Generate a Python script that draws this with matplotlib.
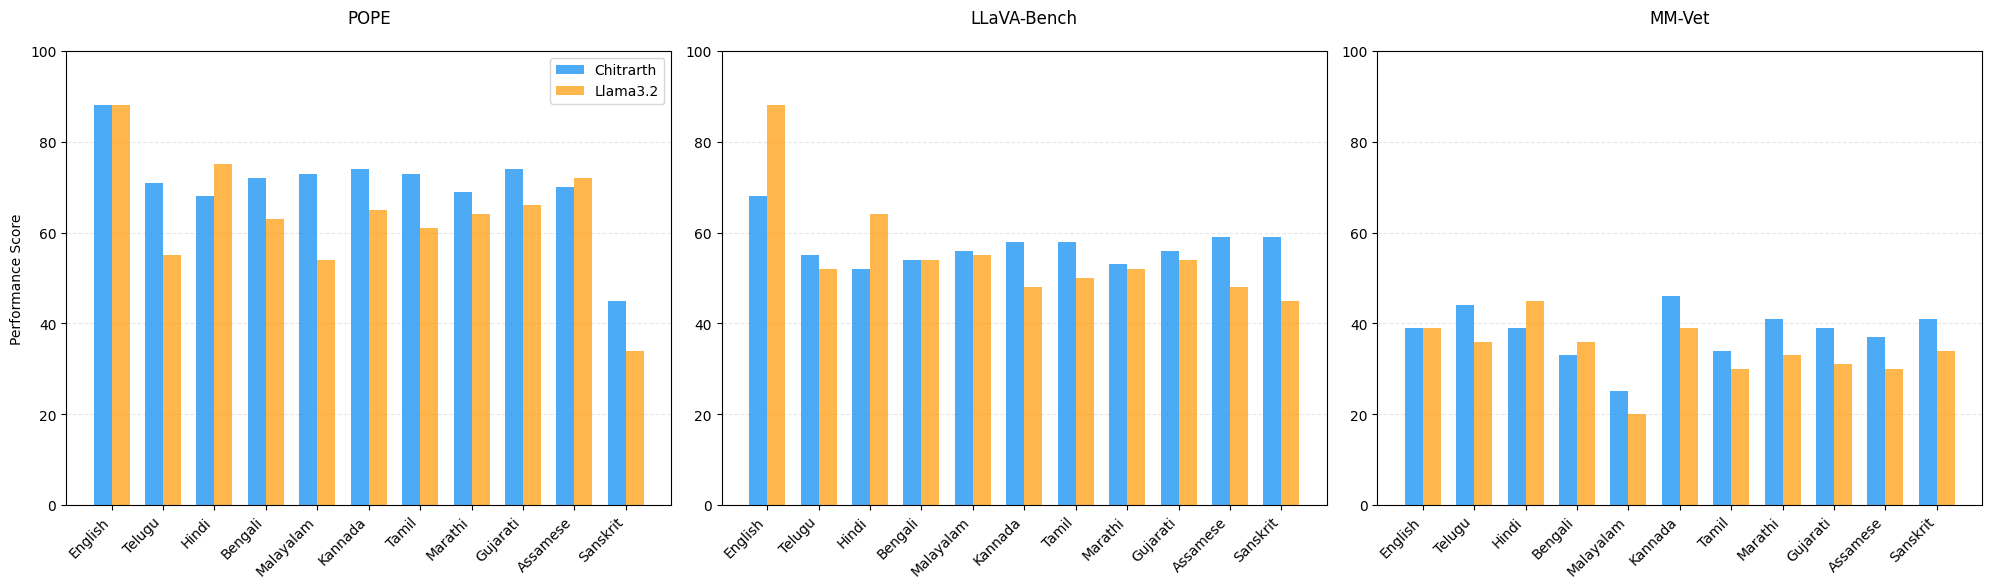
import matplotlib
matplotlib.use("Agg")
import matplotlib.pyplot as plt
import numpy as np

languages = ["English", "Telugu", "Hindi", "Bengali", "Malayalam", "Kannada",
             "Tamil", "Marathi", "Gujarati", "Assamese", "Sanskrit"]
benchmarks = ["POPE", "LLaVA-Bench", "MM-Vet"]
series_names = ["Chitrarth", "Llama3.2"]

pope_chitrarth = [88, 71, 68, 72, 73, 74, 73, 69, 74, 70, 45]
pope_llama = [88, 55, 75, 63, 54, 65, 61, 64, 66, 72, 34]
llava_chitrarth = [68, 55, 52, 54, 56, 58, 58, 53, 56, 59, 59]
llava_llama = [88, 52, 64, 54, 55, 48, 50, 52, 54, 48, 45]
mmvet_chitrarth = [39, 44, 39, 33, 25, 46, 34, 41, 39, 37, 41]
mmvet_llama = [39, 36, 45, 36, 20, 39, 30, 33, 31, 30, 34]

data = [(pope_chitrarth, pope_llama),
        (llava_chitrarth, llava_llama),
        (mmvet_chitrarth, mmvet_llama)]

blue = "#2196F3"
orange = "#FF9800"

fig, axes = plt.subplots(1, 3, figsize=(19.9, 5.889), dpi=100)
fig.subplots_adjust(left=0.0332, right=0.9962, bottom=0.141, top=0.912, wspace=0.083)

x = np.arange(len(languages))
w = 0.35
for i, ax in enumerate(axes):
    c, l = data[i]
    ax.bar(x - w / 2, c, w, color=blue, alpha=0.8, label=series_names[0])
    ax.bar(x + w / 2, l, w, color=orange, alpha=0.7, label=series_names[1])
    ax.set_title(benchmarks[i], fontsize=12, pad=20)
    ax.set_xticks(x)
    ax.set_xticklabels(languages, rotation=45, ha="right")
    ax.set_ylim(0, 100)
    ax.grid(axis="y", linestyle="--", alpha=0.3)
    ax.set_axisbelow(True)
    if i == 0:
        ax.set_ylabel("Performance Score")
        ax.legend(loc="upper right")

fig.savefig("out.png", dpi=100)
